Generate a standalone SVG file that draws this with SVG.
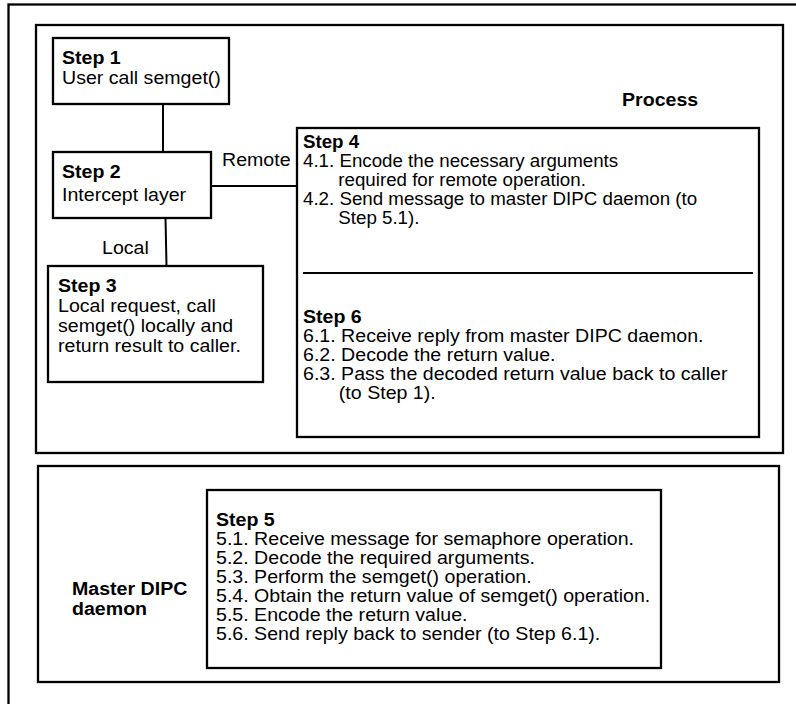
<svg xmlns="http://www.w3.org/2000/svg" width="796" height="704" viewBox="0 0 796 704">
<style>
.frame{fill:none;stroke:#000;stroke-width:2.3}
.box{fill:#fff;stroke:#000;stroke-width:2.3}
.conn{fill:none;stroke:#000;stroke-width:2}
text{font-family:"Liberation Sans",Arial,sans-serif;font-size:17.5px;fill:#000}
.b{font-weight:bold}
</style>
<rect width="796" height="704" fill="#fff"/>
<rect class="frame" x="8.5" y="4.5" width="800" height="720"/>
<g id="process">
<rect class="frame" x="36" y="25" width="747" height="428"/>
<text class="b" transform="translate(622,106) scale(1.12,1)">Process</text>
</g>
<g id="daemon">
<rect class="frame" x="38" y="466" width="741" height="216"/>
<text class="b" transform="translate(72,595) scale(1.12,1)"><tspan x="0" y="0">Master DIPC</tspan><tspan x="0" y="20">daemon</tspan></text>
</g>
<g id="connectors">
<line class="conn" x1="163" y1="105" x2="163" y2="152"/>
<line class="conn" x1="165.5" y1="218" x2="166.5" y2="266"/>
<line class="conn" x1="211" y1="186" x2="297" y2="186"/>
<text transform="translate(222,166) scale(1.12,1)">Remote</text>
<text transform="translate(102,254) scale(1.12,1)">Local</text>
</g>
<g id="step1">
<rect class="box" x="53" y="38" width="176" height="66"/>
<text transform="translate(62,64) scale(1.12,1)"><tspan class="b" x="0" y="0">Step 1</tspan><tspan x="0" y="20">User call semget()</tspan></text>
</g>
<g id="step2">
<rect class="box" x="53" y="152" width="158" height="66"/>
<text transform="translate(62,178) scale(1.12,1)"><tspan class="b" x="0" y="0">Step 2</tspan><tspan x="0" y="23">Intercept layer</tspan></text>
</g>
<g id="step3">
<rect class="box" x="48" y="266" width="215" height="116"/>
<text transform="translate(58,292) scale(1.12,1)"><tspan class="b" x="0" y="0">Step 3</tspan><tspan x="0" y="20">Local request, call</tspan><tspan x="0" y="40">semget() locally and</tspan><tspan x="0" y="60">return result to caller.</tspan></text>
</g>
<g id="step4-6">
<rect class="box" x="297" y="128" width="462" height="309"/>
<line class="conn" x1="303" y1="273" x2="753" y2="273"/>
<text transform="translate(303,148) scale(1.07,1)"><tspan class="b" x="0" y="0">Step 4</tspan><tspan x="0" y="19">4.1. Encode the necessary arguments</tspan><tspan x="33" y="38">required for remote operation.</tspan><tspan x="0" y="57">4.2. Send message to master DIPC daemon (to</tspan><tspan x="33" y="76">Step 5.1).</tspan></text>
<text transform="translate(303,323) scale(1.12,1)"><tspan class="b" x="0" y="0">Step 6</tspan><tspan x="0" y="19">6.1. Receive reply from master DIPC daemon.</tspan><tspan x="0" y="38">6.2. Decode the return value.</tspan><tspan x="0" y="57">6.3. Pass the decoded return value back to caller</tspan><tspan x="32" y="76">(to Step 1).</tspan></text>
</g>
<g id="step5">
<rect class="box" x="207" y="490" width="454" height="178"/>
<text transform="translate(216,526) scale(1.12,1)"><tspan class="b" x="0" y="0">Step 5</tspan><tspan x="0" y="19">5.1. Receive message for semaphore operation.</tspan><tspan x="0" y="38">5.2. Decode the required arguments.</tspan><tspan x="0" y="57">5.3. Perform the semget() operation.</tspan><tspan x="0" y="76">5.4. Obtain the return value of semget() operation.</tspan><tspan x="0" y="95">5.5. Encode the return value.</tspan><tspan x="0" y="114">5.6. Send reply back to sender (to Step 6.1).</tspan></text>
</g>
</svg>
